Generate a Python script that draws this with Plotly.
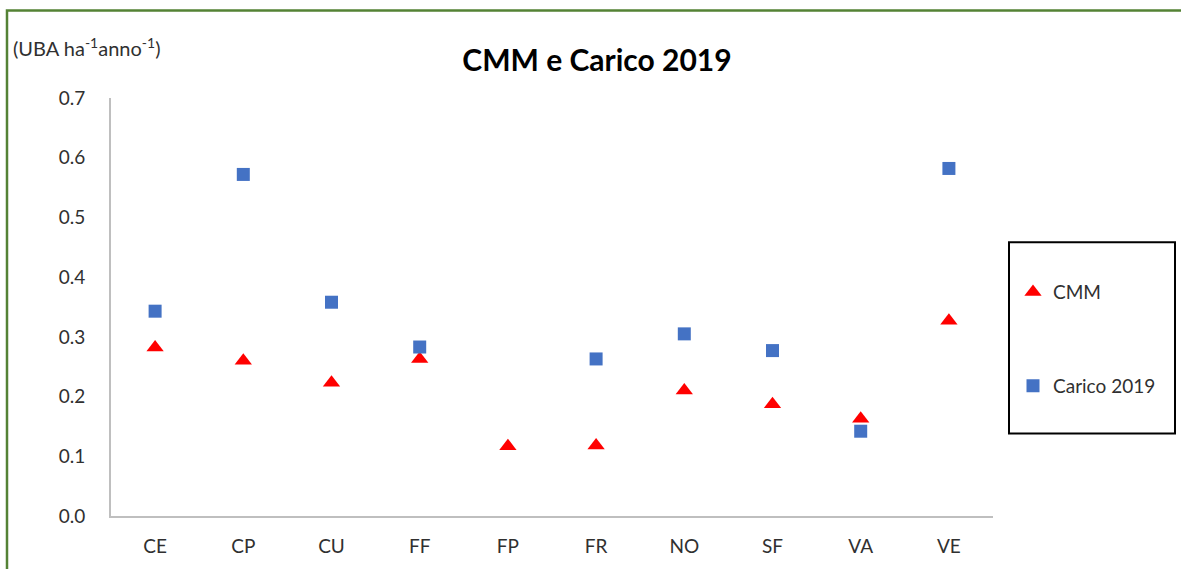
import plotly.graph_objects as go

categories = ["CE", "CP", "CU", "FF", "FP", "FR", "NO", "SF", "VA", "VE"]
cmm = [0.282, 0.260, 0.223, 0.263, 0.117, 0.118, 0.210, 0.187, 0.163, 0.327]
carico_cats = ["CE", "CP", "CU", "FF", "FR", "NO", "SF", "VA", "VE"]
carico = [0.343, 0.572, 0.358, 0.283, 0.263, 0.305, 0.277, 0.142, 0.582]
y_ticks = [0.0, 0.1, 0.2, 0.3, 0.4, 0.5, 0.6, 0.7]

W, H = 1181, 569
L, R, T, B = 111, 188, 98, 51
pw, ph = W - L - R, H - T - B

def px(x):
    return (x - L) / pw

def py(y):
    return (H - B - y) / ph

FONT = "Lato, 'Open Sans', 'Liberation Sans', sans-serif"
TXT = "#303030"

fig = go.Figure()
fig.add_trace(go.Scatter(
    x=categories, y=cmm, mode="markers", name="CMM",
    marker=dict(symbol="triangle-up", size=15, color="#FF0000"),
    legendgroup="a",
))
fig.add_trace(go.Scatter(
    x=carico_cats, y=carico, mode="markers", name="Carico 2019",
    marker=dict(symbol="square", size=13, color="#4472C4"),
    legendgroup="b",
))

fig.update_layout(
    width=W, height=H,
    margin=dict(l=L, r=R, t=T, b=B, pad=0),
    paper_bgcolor="white", plot_bgcolor="white",
    font=dict(family=FONT, color=TXT, size=19),
    title=dict(text="<b>CMM e Carico 2019</b>", xref="container", x=597 / W,
               xanchor="center", y=1 - 60 / H, yanchor="middle",
               font=dict(size=30, color="black", family=FONT)),
    xaxis=dict(categoryorder="array", categoryarray=categories,
               range=[-0.5, 9.5], showgrid=False, zeroline=False,
               showline=True, linecolor="#BFBFBF", linewidth=2,
               ticks="", ticklabelstandoff=12,
               tickfont=dict(size=19, color=TXT)),
    yaxis=dict(range=[0, 0.7], tickvals=y_ticks, tickformat=".1f",
               showgrid=False, zeroline=False,
               showline=True, linecolor="#BFBFBF", linewidth=2,
               ticks="", ticklabelstandoff=20,
               tickfont=dict(size=19, color=TXT)),
    showlegend=True,
    legend=dict(x=px(1013), y=py(274), xanchor="left", yanchor="top",
                traceorder="grouped", tracegroupgap=66,
                font=dict(size=19, color=TXT, family=FONT),
                bgcolor="rgba(0,0,0,0)", borderwidth=0,
                itemwidth=30),
)

# legend frame
fig.add_shape(type="rect", xref="paper", yref="paper",
              x0=px(1009), x1=px(1175), y0=py(435), y1=py(243),
              line=dict(color="black", width=2), fillcolor="rgba(0,0,0,0)")

# green chart border (left and top)
fig.add_shape(type="path", xref="paper", yref="paper",
              path=f"M {px(7)},{py(H + 5)} L {px(7)},{py(10)} L {px(W + 5)},{py(10)}",
              line=dict(color="#548235", width=2.5))

fig.add_annotation(text="(UBA ha<sup>-1</sup>anno<sup>-1</sup>)",
                   xref="paper", yref="paper", x=px(11), y=py(47),
                   xanchor="left", yanchor="middle", showarrow=False,
                   font=dict(size=20, color=TXT, family=FONT))

fig.write_html("out.html", config={"displayModeBar": False},
               post_script="document.body.style.margin='0';document.body.style.overflow='hidden';")
